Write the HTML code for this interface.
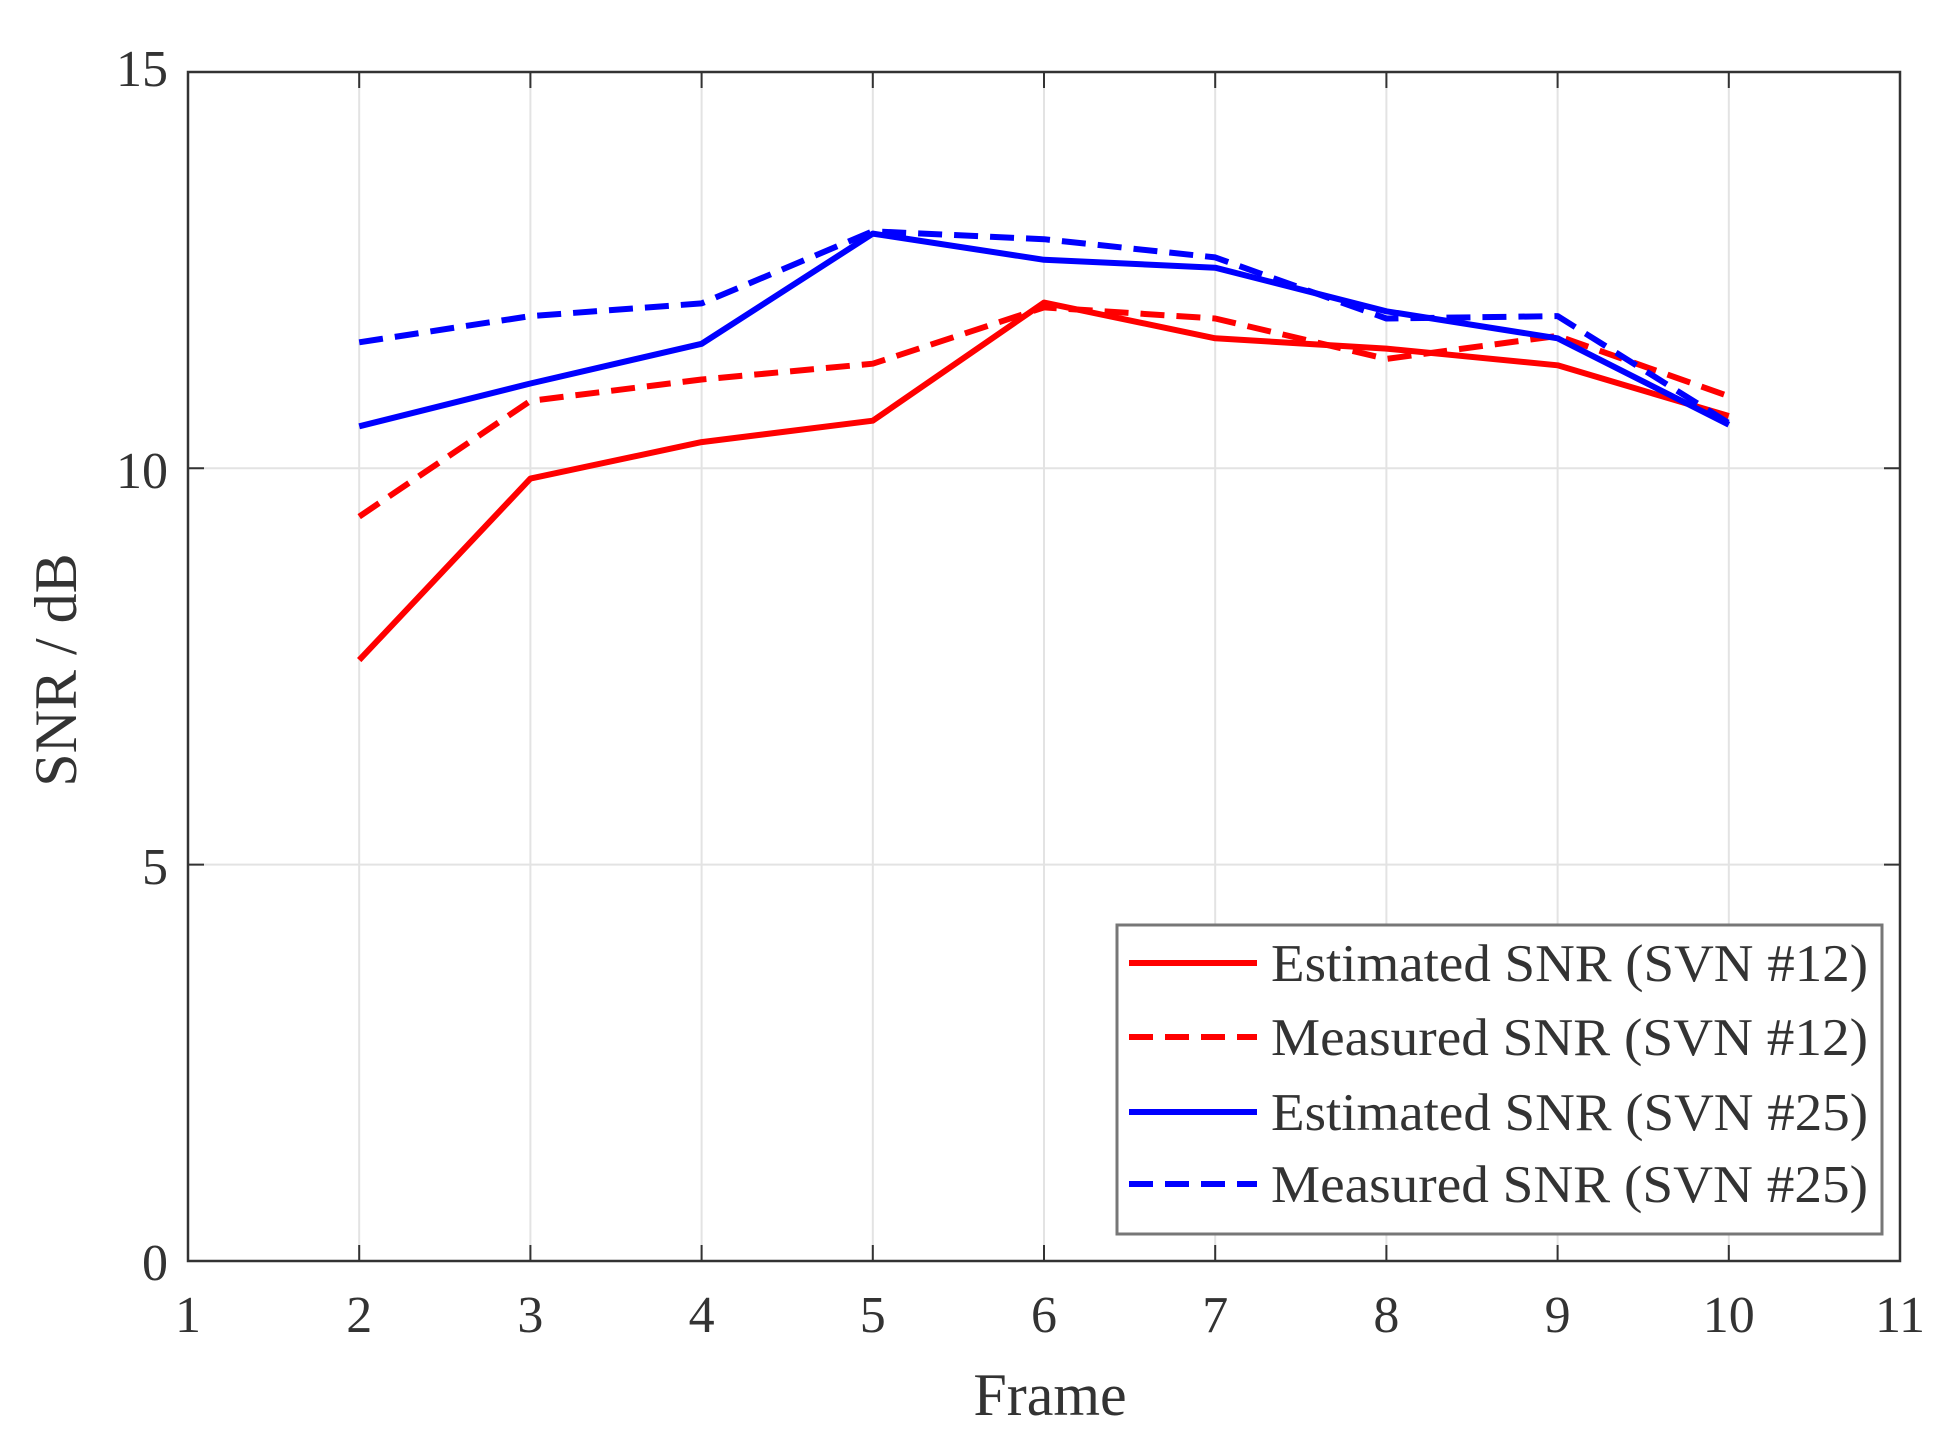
<!DOCTYPE html>
<html><head><style>body{margin:0;background:#fff}svg{display:block}</style></head><body>
<svg width="1951" height="1445" viewBox="0 0 1951 1445" xmlns="http://www.w3.org/2000/svg" font-family="Liberation Serif, serif" fill="#333">
<g stroke="#e3e3e3" stroke-width="2">
<line x1="359.2" y1="72" x2="359.2" y2="1261"/><line x1="530.4" y1="72" x2="530.4" y2="1261"/><line x1="701.6" y1="72" x2="701.6" y2="1261"/><line x1="872.8" y1="72" x2="872.8" y2="1261"/><line x1="1044" y1="72" x2="1044" y2="1261"/><line x1="1215.2" y1="72" x2="1215.2" y2="1261"/><line x1="1386.4" y1="72" x2="1386.4" y2="1261"/><line x1="1557.6" y1="72" x2="1557.6" y2="1261"/><line x1="1728.8" y1="72" x2="1728.8" y2="1261"/>
<line x1="188" y1="864.6" x2="1900" y2="864.6"/><line x1="188" y1="468.3" x2="1900" y2="468.3"/>
</g>
<g stroke="#333" stroke-width="2">
<path d="M359.2 1261v-16M530.4 1261v-16M701.6 1261v-16M872.8 1261v-16M1044 1261v-16M1215.2 1261v-16M1386.4 1261v-16M1557.6 1261v-16M1728.8 1261v-16M359.2 72v16M530.4 72v16M701.6 72v16M872.8 72v16M1044 72v16M1215.2 72v16M1386.4 72v16M1557.6 72v16M1728.8 72v16M188 864.6h16M188 468.3h16M1900 864.6h-16M1900 468.3h-16"/>
</g>
<rect x="188" y="72" width="1712" height="1189" fill="none" stroke="#333" stroke-width="2.5"/>
<g fill="none" stroke-width="6" stroke-linejoin="round">
<polyline stroke="#ff0000" points="359.2,660.1 530.4,478.6 701.6,442.1 872.8,420.7 1044,302.6 1215.2,338.3 1386.4,348.6 1557.6,365.3 1728.8,416"/>
<polyline stroke="#ff0000" stroke-dasharray="24,12" points="359.2,516.6 530.4,400.9 701.6,379.5 872.8,363.7 1044,307.4 1215.2,318.5 1386.4,358.9 1557.6,335.9 1728.8,396.2"/>
<polyline stroke="#0000ff" points="359.2,426.3 530.4,383.5 701.6,343.8 872.8,233.6 1044,259.8 1215.2,267.7 1386.4,311.3 1557.6,338.3 1728.8,424.7"/>
<polyline stroke="#0000ff" stroke-dasharray="24,12" points="359.2,342.3 530.4,316.1 701.6,303.4 872.8,231.3 1044,239.2 1215.2,257.4 1386.4,318.5 1557.6,316.1 1728.8,423.1"/>
</g>
<g font-size="52" text-anchor="middle">
<text x="188" y="1332">1</text><text x="359.2" y="1332">2</text><text x="530.4" y="1332">3</text><text x="701.6" y="1332">4</text><text x="872.8" y="1332">5</text><text x="1044" y="1332">6</text><text x="1215.2" y="1332">7</text><text x="1386.4" y="1332">8</text><text x="1557.6" y="1332">9</text><text x="1728.8" y="1332">10</text><text x="1900" y="1332">11</text>
</g>
<g font-size="52" text-anchor="end">
<text x="168" y="1280">0</text><text x="168" y="884">5</text><text x="168" y="488">10</text><text x="168" y="86">15</text>
</g>
<text x="1050" y="1415" font-size="60" text-anchor="middle">Frame</text>
<text transform="translate(76,670) rotate(-90)" font-size="60" text-anchor="middle">SNR / dB</text>
<rect x="1117" y="925" width="765" height="309" fill="#fff" stroke="#777" stroke-width="3"/>
<g stroke-width="6">
<line x1="1129" y1="963" x2="1257" y2="963" stroke="#ff0000"/>
<line x1="1129" y1="1037" x2="1257" y2="1037" stroke="#ff0000" stroke-dasharray="24,12"/>
<line x1="1129" y1="1112" x2="1257" y2="1112" stroke="#0000ff"/>
<line x1="1129" y1="1184" x2="1257" y2="1184" stroke="#0000ff" stroke-dasharray="24,12"/>
</g>
<g font-size="53">
<text x="1271" y="981" textLength="597" lengthAdjust="spacingAndGlyphs">Estimated SNR (SVN #12)</text>
<text x="1271" y="1055" textLength="597" lengthAdjust="spacingAndGlyphs">Measured SNR (SVN #12)</text>
<text x="1271" y="1130" textLength="597" lengthAdjust="spacingAndGlyphs">Estimated SNR (SVN #25)</text>
<text x="1271" y="1202" textLength="597" lengthAdjust="spacingAndGlyphs">Measured SNR (SVN #25)</text>
</g>
</svg>
</body></html>
